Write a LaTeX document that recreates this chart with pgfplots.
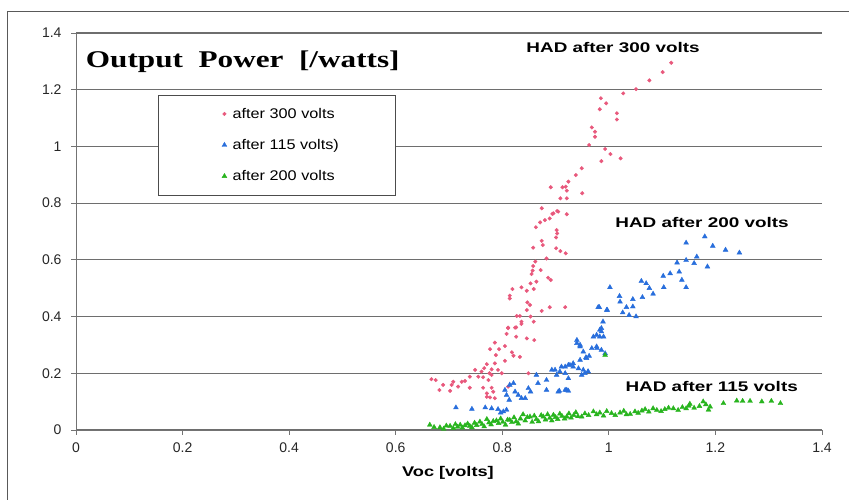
\documentclass[border=0pt]{standalone}
\usepackage{fontspec}
\setmainfont{Liberation Sans}
\newfontfamily\titlefont{Liberation Serif}
\usepackage{graphicx}
\usepackage{pgfplots}
\pgfplotsset{compat=1.18}
\definecolor{pinkc}{RGB}{232,88,124}
\definecolor{bluec}{RGB}{40,110,220}
\definecolor{greenc}{RGB}{40,180,30}
\definecolor{gridc}{RGB}{110,110,110}
\begin{document}
\begin{tikzpicture}
\path[use as bounding box] (-76pt,-70pt) rectangle (773pt,430pt);
\draw[black!65, line width=1pt] (-68pt,-70pt) -- (-68pt,418pt) -- (773pt,418pt);
\begin{axis}[
 at={(0pt,0pt)}, anchor=south west, scale only axis, width=746pt, height=397pt,
 xmin=0, xmax=1.4, ymin=0, ymax=1.4,
 xtick={0,0.2,0.4,0.6,0.8,1,1.2,1.4},
 ytick={0,0.2,0.4,0.6,0.8,1,1.2,1.4},
 axis x line*=bottom, axis y line*=left,
 axis line style={-, black!55, line width=0.8pt},
 tick align=outside, major tick length=5pt,
 tick style={black!55, line width=0.8pt},
 ymajorgrids, grid style={gridc, line width=1.2pt},
 /pgf/number format/assume math mode=true,
 tick label style={font=\fontsize{14}{16}\selectfont, text=black!85},
 xticklabel style={yshift=-4pt},
 yticklabel style={xshift=-6pt},
 clip=false,
 legend image code/.code={\path (0pt,0pt) (18pt,0pt); \draw[#1] plot coordinates {(12pt,0pt)};},
 legend style={at={(axis description cs:0.110,0.844)}, anchor=north west,
   draw=black!70, fill=white, font=\fontsize{14}{16}\selectfont,
   inner xsep=54pt, inner ysep=11pt, row sep=15.5pt},
 legend cell align=left,
]
\addplot[only marks, mark=*, mark size=1.8pt, draw=pinkc, fill=pinkc] coordinates {
(1.117,1.295) (1.101,1.262) (1.076,1.233) (1.051,1.202) (1.027,1.187)
(0.985,1.170) (0.995,1.152) (0.983,1.131) (1.015,1.117) (1.015,1.095)
(0.968,1.067) (0.974,1.052) (0.974,1.034) (0.963,1.005) (0.993,0.991)
(1.003,0.973) (0.986,0.948) (1.022,0.958) (0.949,0.923) (0.938,0.899)
(0.924,0.876) (0.919,0.858)
(0.891,0.856) (0.913,0.856) (0.921,0.844) (0.950,0.835) (0.909,0.817)
(0.921,0.817) (0.874,0.782) (0.903,0.772) (0.894,0.762) (0.921,0.761)
(0.889,0.746) (0.880,0.740) (0.871,0.732) (0.863,0.715) (0.902,0.705)
(0.903,0.693) (0.901,0.679) (0.874,0.667) (0.876,0.652) (0.858,0.643)
(0.901,0.641) (0.909,0.631) (0.919,0.623) (0.883,0.605) (0.862,0.594)
(0.858,0.578) (0.872,0.564) (0.857,0.562) (0.855,0.550) (0.886,0.537)
(0.891,0.529) (0.864,0.523) (0.853,0.517) (0.836,0.503) (0.819,0.497)
(0.859,0.497) (0.846,0.491) (0.814,0.474) (0.814,0.464) (0.847,0.450)
(0.852,0.441) (0.889,0.433) (0.918,0.433) (0.846,0.423) (0.874,0.420)
(0.827,0.402) (0.833,0.402) (0.853,0.400) (0.836,0.382) (0.836,0.374)
(0.811,0.361) (0.824,0.361) (0.896,0.764) (0.905,0.770)
(0.859,0.382) (0.811,0.359) (0.826,0.362) (0.808,0.339) (0.826,0.329)
(0.846,0.323) (0.860,0.317) (0.786,0.308) (0.805,0.296) (0.777,0.285)
(0.794,0.285) (0.818,0.274) (0.788,0.264) (0.821,0.262) (0.833,0.258)
(0.805,0.244) (0.786,0.235) (0.771,0.232) (0.766,0.218) (0.780,0.214)
(0.749,0.212) (0.761,0.206) (0.776,0.200) (0.792,0.212) (0.739,0.188)
(0.755,0.188) (0.764,0.186) (0.780,0.194) (0.799,0.200) (0.849,0.200)
(0.667,0.179) (0.730,0.173) (0.724,0.170) (0.708,0.170) (0.774,0.176)
(0.705,0.159) (0.689,0.159) (0.717,0.153) (0.739,0.149) (0.764,0.149)
(0.780,0.149) (0.682,0.141) (0.702,0.138) (0.783,0.135) (0.771,0.129)
(0.811,0.153) (0.771,0.117) (0.786,0.112) (0.777,0.115) (0.675,0.176)
};
\addlegendentry{\scalebox{1.16}[1]{after 300 volts}}
\addplot[only marks, mark=triangle*, mark size=2.8pt, draw=bluec, fill=bluec] coordinates {
(0.713,0.079) (0.743,0.074) (0.768,0.079) (0.780,0.076) (0.792,0.073)
(0.802,0.065) (0.808,0.071) (0.797,0.061) (0.805,0.141) (0.814,0.159)
(0.808,0.123) (0.813,0.106) (0.821,0.165) (0.824,0.135) (0.830,0.123)
(0.836,0.112) (0.843,0.112) (0.849,0.147) (0.853,0.135) (0.864,0.194)
(0.867,0.165) (0.883,0.176) (0.883,0.141) (0.893,0.212) (0.902,0.194)
(0.908,0.206) (0.918,0.223) (0.907,0.138) (0.921,0.141) (0.918,0.200)
(0.940,0.306) (0.946,0.294) (0.952,0.276) (0.968,0.288) (0.977,0.294)
(0.983,0.329) (0.986,0.347) (0.986,0.359) (0.989,0.382) (0.980,0.433)
(0.996,0.423) (0.927,0.229) (0.933,0.223) (0.952,0.212) (0.961,0.206)
(0.905,0.135) (0.899,0.212)
(0.983,0.353) (0.977,0.335) (0.940,0.317) (0.946,0.300) (0.978,0.288)
(0.986,0.282) (0.993,0.270) (0.963,0.261) (0.958,0.253) (0.946,0.247)
(0.933,0.235) (0.924,0.229) (0.911,0.223) (0.943,0.217) (0.949,0.194)
(0.961,0.206) (0.955,0.200) (0.924,0.182) (0.918,0.141) (0.924,0.138)
(1.002,0.503) (0.982,0.433) (0.997,0.423) (1.020,0.472) (1.021,0.452)
(1.033,0.433) (1.045,0.461) (1.045,0.435) (1.026,0.414) (1.038,0.405)
(1.051,0.400) (1.063,0.468) (1.061,0.525) (1.070,0.517) (1.076,0.500)
(1.083,0.480) (1.103,0.503) (1.102,0.543) (1.115,0.552) (1.132,0.558)
(1.137,0.529) (1.145,0.503) (1.128,0.590) (1.145,0.599) (1.160,0.588)
(1.165,0.611) (1.185,0.576) (1.145,0.660) (1.180,0.682) (1.195,0.649)
(1.219,0.635) (1.245,0.625) (0.957,0.256) (0.971,0.329) (0.990,0.329)
};
\addlegendentry{\scalebox{1.16}[1]{after 115 volts)}}
\addplot[only marks, mark=triangle*, mark size=2.8pt, draw=greenc, fill=greenc] coordinates {
(0.664,0.018) (0.672,0.010) (0.683,0.009) (0.690,0.004) (0.695,0.015)
(0.702,0.014) (0.708,0.006) (0.712,0.020) (0.716,0.011) (0.721,0.018)
(0.725,0.008) (0.730,0.016) (0.735,0.022) (0.739,0.014) (0.743,0.009)
(0.748,0.025) (0.752,0.017) (0.758,0.029) (0.762,0.020) (0.766,0.012)
(0.771,0.038) (0.775,0.026) (0.779,0.019) (0.783,0.031) (0.789,0.033)
(0.793,0.024) (0.797,0.040) (0.801,0.028) (0.806,0.018) (0.810,0.036)
(0.814,0.035) (0.818,0.027) (0.822,0.044) (0.826,0.030) (0.830,0.022)
(0.834,0.040) (0.839,0.055) (0.843,0.033) (0.847,0.045) (0.852,0.047)
(0.856,0.028) (0.860,0.050) (0.864,0.038) (0.868,0.030) (0.873,0.052)
(0.877,0.047) (0.881,0.036) (0.885,0.055) (0.889,0.042) (0.893,0.033)
(0.896,0.053) (0.900,0.045) (0.904,0.038) (0.908,0.057) (0.912,0.049)
(0.917,0.040) (0.921,0.047) (0.925,0.058) (0.929,0.043) (0.934,0.052)
(0.938,0.062) (0.942,0.048) (0.949,0.047) (0.955,0.058) (0.962,0.052)
(0.971,0.065) (0.977,0.055) (0.983,0.061) (0.990,0.050) (0.996,0.066)
(1.005,0.059) (1.012,0.052) (1.021,0.061) (1.028,0.067) (1.033,0.055)
(1.040,0.056) (1.049,0.065) (1.055,0.060) (1.062,0.068) (1.068,0.073)
(1.075,0.064) (1.083,0.076) (1.090,0.070) (1.098,0.066) (1.105,0.073)
(1.112,0.078) (1.121,0.076) (1.130,0.070) (1.138,0.080) (1.145,0.076)
(1.150,0.085) (1.152,0.092) (1.160,0.078) (1.170,0.084) (1.177,0.100)
(1.182,0.090) (1.187,0.071) (1.190,0.082) (1.215,0.094) (1.240,0.103)
(1.251,0.102) (1.265,0.102) (1.287,0.100) (1.305,0.102) (1.322,0.094)
(0.993,0.264)
};
\addlegendentry{\scalebox{1.16}[1]{after 200 volts}}
\node[font=\titlefont\bfseries\fontsize{24}{26}\selectfont] at (axis cs:0.313,1.298) {\scalebox{1.3}[1]{Output\ \ Power\ \ [/watts]}};
\node[font=\bfseries\fontsize{14}{16}\selectfont] at (axis cs:1.008,1.350) {\scalebox{1.35}[1]{HAD after 300 volts}};
\node[font=\bfseries\fontsize{14}{16}\selectfont] at (axis cs:1.175,0.730) {\scalebox{1.35}[1]{HAD after 200 volts}};
\node[font=\bfseries\fontsize{14}{16}\selectfont] at (axis cs:1.193,0.152) {\scalebox{1.35}[1]{HAD after 115 volts}};
\node[font=\bfseries\fontsize{14}{16}\selectfont] at (axis cs:0.698,-0.152) {\scalebox{1.3}[1]{Voc [volts]}};
\end{axis}
\end{tikzpicture}
\end{document}
